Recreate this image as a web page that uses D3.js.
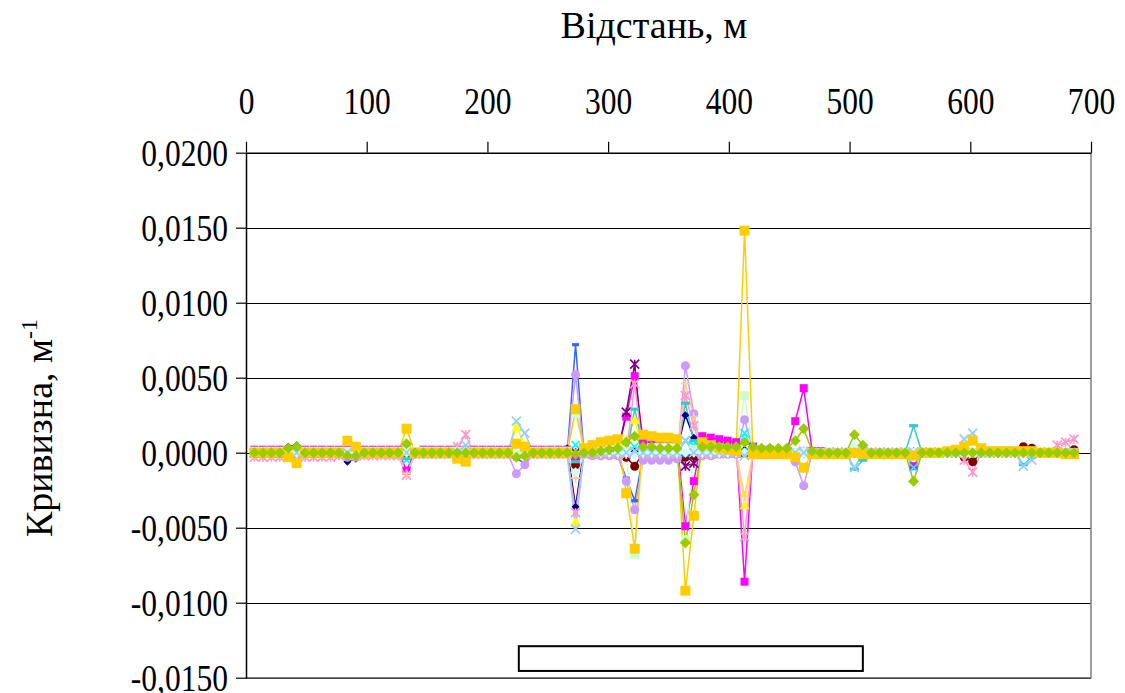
<!DOCTYPE html>
<html>
<head>
<meta charset="utf-8">
<script src="https://cdn.jsdelivr.net/npm/d3@7"></script>
<style>
  body { margin: 0; background: #fff; }
  svg { display: block; }
  text { font-family: "Liberation Serif", "Times New Roman", serif; fill: #000; }
</style>
</head>
<body>
<div id="chart"></div>
<script>
// Кривизна по відстані (x кожні 7 м)
const distance = [7,14,21,28,35,42,49,56,63,70,77,84,91,98,105,112,119,126,133,140,147,154,161,168,175,182,189,196,
  203,210,217,224,231,238,245,252,259,266,273,280,287,294,301,308,315,322,329,336,343,350,357,364,371,378,385,392,
  399,406,413,420,427,434,441,448,455,462,469,476,483,490,497,504,511,518,525,532,539,546,553,560,567,574,581,588,
  595,602,609,616,623,630,637,644,651,658,665,672,679,686];

const xTicks = [0, 100, 200, 300, 400, 500, 600, 700];
const yTicks = [-0.015, -0.01, -0.005, 0, 0.005, 0.01, 0.015, 0.02];
const bridge = { from: 226, to: 511, top: -0.0129, bottom: -0.01455 };

const s1 = [
  0.0002,0.0002,0.0001,0.0001,0.0004,0.0005,0.0001,0.0001,0.0001,0.0001,0.0001,-0.0006,-0.0004,0.0001,
  0.0001,0.0001,0.0001,0.0001,0,0.0001,0.0001,0.0001,0.0001,0.0001,0.0001,0,0.0001,0.0001,
  0.0001,0.0001,0.0001,0.0001,0,0.0001,0.0001,0.0002,0.0002,0.0003,-0.0036,0.0002,0.0001,0.0001,
  0.0001,0.0001,0.0002,0.0001,0,0,0,0,0.0001,0.0025,0.001,0.0001,0,0,
  0,0,0.0002,0,0,0,0,0,0,0,0,0,0,0,
  0,0,0,0,0,0,0,0,0.0001,0,0,0,0,0,
  0,0,0,0,0,0,0,0,0,0,0,0,0,0];
const s2 = [
  0.0002,0.0002,0.0002,0.0002,0.0002,0.0002,0.0002,0.0002,0.0002,0.0002,0.0002,0.0002,0.0002,0.0002,
  0.0002,0.0002,0.0002,0.0002,-0.0012,0.0001,0.0002,0.0002,0.0002,0.0002,0.0002,0.0002,0.0002,0.0002,
  0.0002,0.0002,0.0002,0.0002,0.0002,0.0002,0.0002,0.0002,0.0002,0.0002,-0.0004,0.0001,0.0001,0.0001,
  0.0001,0.0002,0.0024,0.0051,0.0008,0.0009,0.0009,0.0009,0.0009,-0.0049,-0.0019,0.0011,0.001,0.0009,
  0.0008,0.0007,-0.0086,0.0004,0.0002,0.0002,0.0001,0.0001,0.0021,0.0043,0.0001,0.0001,0,0,
  0,0,0,0,0,0,0,0,-0.0009,0,0,0,0,0,
  0,0,0,0,0,0,0,0,0,0,0,0,0,0];
const s3 = [
  0,0,0,0,0,0,0,0,0,0,0,0,0,0,
  0,0,0,0,0,0,0,0,0,0,0,0,0,0,
  0,0,0,0.0017,0.0005,0,0,0,0,0,-0.0046,0,0,0,
  0,0,0.0009,0.0022,0,0,0,0,0,-0.0002,0,0,0,0,
  0,0,-0.0035,0,0,0,0,0,0,0,0,0,0,0,
  0,0,0,0,0,0,0,0,0,0,0,0,0,0,
  0,0,0,0,0,0,0,0,0,0,0,0,0,0];
const s4 = [
  0,0,0,0,0,0,0,0,0,0,0,0,0,0,
  0,0,0,0,-0.0005,0,0,0,0,0,0,0.0001,0,0,
  0,0,0,0.0002,0.0001,0,0,0.0001,0.0001,0.0001,0.0005,0.0001,0,0,
  0,0,0.0001,0.0004,0,0,0,0,0,0.0008,0.0005,0,0,0,
  0,0,0.0013,0.0001,0,0,0,0,0,0,0,0,0,0,
  0,0,0,0,0,0,0,0,-0.001,0,0,0,0,0,
  0,0,0,0,0,0,0,0,0,0,0,0,0,0];
const s5 = [
  0,0,0,0,0,0,0,0,0,0,0,0,0,0,
  0,0,0,0,0,0,0,0,0,0,0,0,0,0,
  0,0,0,0,0,0,0,0,0,0,0,0,0,0,
  0,0,0.0027,0.0059,0,0,0,0,0,-0.0009,-0.0007,0,0,0,
  0,0,0,0,0,0,0,0,0,0,0,0,0,0,
  0,0,0,0,0,0,0,0,0,0,0,0,0,0,
  0,0,0,0,0,0,0,0,0,0,0,0,0,0];
const s6 = [
  0,0,0,0,0,0,0,0,0,0,0,0,0,0,
  0,0,0,0,0,0,0,0,0,0,0,0,0,0,
  0,0,0,0,0,0,0,0,0,0,-0.0008,0,0,0,
  0,0,-0.0003,-0.0009,0,0,0,0,0,-0.0003,-0.0002,0,0,0,
  0,0,0,0,0,0,0,0,0,0,0,0,0,0,
  0,0,0,0,0,0,0,0,0,0,0,0,0,0,
  -0.0003,-0.0006,0,0,0,0,0,0.0004,0.0003,0,0,0,0,0.0002];
const s7 = [
  -0.0001,-0.0001,-0.0001,-0.0001,-0.0001,-0.0001,-0.0001,-0.0001,-0.0001,-0.0001,-0.0001,0.0001,-0.0001,-0.0001,
  -0.0001,-0.0001,-0.0001,-0.0001,-0.0004,-0.0001,-0.0001,-0.0001,-0.0001,-0.0001,0.0001,0.0003,-0.0001,-0.0001,
  -0.0001,-0.0001,-0.0001,-0.0001,-0.0001,-0.0001,-0.0001,-0.0001,-0.0001,-0.0001,-0.0006,-0.0001,-0.0002,-0.0002,
  -0.0002,-0.0002,-0.0002,0.0029,0.0004,-0.0002,-0.0002,-0.0002,-0.0002,0.0033,0.0008,-0.0002,-0.0002,-0.0002,
  -0.0001,-0.0001,0.0002,-0.0001,-0.0001,-0.0001,-0.0001,-0.0001,-0.0001,-0.0001,0,0,0,0,
  0,-0.0011,-0.0005,0,0,0,0,0,0.0018,0,0,0,0,0,
  0,0,0,0,0,0,0,-0.0008,-0.0003,0,0,0,0,0];
const s8 = [
  -0.0001,-0.0001,-0.0001,-0.0001,-0.0001,-0.0001,-0.0001,-0.0001,-0.0001,-0.0001,-0.0001,-0.0001,-0.0001,-0.0001,
  -0.0001,-0.0001,-0.0001,-0.0001,-0.0001,-0.0001,-0.0001,-0.0001,-0.0001,-0.0001,-0.0001,-0.0001,-0.0001,-0.0001,
  -0.0001,-0.0001,-0.0001,-0.0004,-0.0007,-0.0001,-0.0001,-0.0001,-0.0001,-0.0001,0.0072,-0.0001,-0.0002,-0.0002,
  -0.0002,-0.0002,-0.0017,-0.0032,-0.0002,-0.0002,-0.0002,-0.0002,-0.0002,-0.0002,-0.0001,-0.0001,-0.0001,-0.0001,
  -0.0001,-0.0001,-0.0001,-0.0001,-0.0001,-0.0001,-0.0001,-0.0001,-0.0001,0,0,0,0,0,
  0,0.0002,0,0,0,0,0,0,0.0001,0,0,0,0,0,
  0,0,0,0,0,0,0,0,0,0,0,0,0,0];
const s9 = [
  -0.0001,-0.0001,-0.0001,-0.0001,-0.0002,-0.0003,-0.0001,-0.0001,-0.0001,-0.0001,-0.0001,-0.0003,-0.0003,-0.0001,
  -0.0001,-0.0001,-0.0001,-0.0001,0.0005,-0.0001,-0.0001,-0.0001,-0.0001,-0.0001,-0.0001,-0.0001,-0.0001,-0.0001,
  -0.0001,-0.0001,-0.0001,-0.0014,-0.0008,-0.0001,-0.0001,-0.0001,-0.0001,-0.0001,0.0052,-0.0001,-0.0002,-0.0002,
  -0.0002,-0.0002,-0.0019,-0.0038,-0.0005,-0.0005,-0.0005,-0.0005,-0.0004,0.0058,0.0026,-0.0002,-0.0002,-0.0001,
  -0.0001,-0.0001,0.0022,0.0002,0,0,0,0,-0.0006,-0.0022,0,0,0,0,
  0,0,0,0,0,0,0,0,0,0,0,0,0,0,
  0,0,0,0,0,0,0,0,0,0,0,0,0,0];
const s10 = [
  -0.0003,-0.0003,-0.0003,-0.0003,-0.0003,-0.0003,-0.0003,-0.0003,-0.0003,-0.0003,-0.0002,-0.0002,-0.0002,-0.0002,
  -0.0002,-0.0002,-0.0002,-0.0002,-0.0015,-0.0001,-0.0001,-0.0001,-0.0001,-0.0001,0.0004,0.0012,-0.0001,-0.0001,
  -0.0001,-0.0001,-0.0001,-0.0001,-0.0001,-0.0001,-0.0001,-0.0001,-0.0001,-0.0001,-0.004,-0.0001,-0.0001,-0.0001,
  -0.0001,-0.0001,-0.0001,0.0046,-0.0001,-0.0001,-0.0001,-0.0001,-0.0001,0.0038,0.0018,-0.0001,-0.0001,-0.0001,
  0,0,-0.0056,0,0,0,0,0,0,0.0001,0,0,0,0,
  0,0,0,0,0,0,0,0,0,0,0,0,0,0,
  -0.0005,-0.0013,0,0,0,0,0,0,0,0,0,0.0005,0.0007,0.0009];
const s11 = [
  -0.0001,-0.0001,-0.0001,-0.0001,-0.0001,-0.0001,-0.0001,-0.0001,-0.0001,-0.0001,-0.0001,-0.0001,-0.0001,-0.0001,
  -0.0001,-0.0001,-0.0001,-0.0001,-0.0014,-0.0001,-0.0001,-0.0001,-0.0001,-0.0001,-0.0001,-0.0001,-0.0001,-0.0001,
  -0.0001,-0.0001,-0.0001,-0.0001,-0.0001,-0.0001,-0.0001,-0.0001,-0.0001,-0.0001,-0.0017,-0.0001,-0.0001,-0.0001,
  -0.0001,-0.0001,-0.0001,-0.0001,-0.0001,-0.0001,-0.0001,-0.0001,-0.0001,0.0046,0.0024,-0.0001,-0.0001,-0.0001,
  0,0,-0.0029,0,0,0,0,0,0,0,0,0,0,0,
  0,0,0,0,0,0,0,0,0,0,0,0,0,0,
  0,0,0,0,0,0,0,0,0,0,0,0,0,0];
const s12 = [
  0.0001,0.0001,0.0001,0.0001,0.0001,0.0001,0.0001,0.0001,0.0001,0.0001,0.0001,0.0001,0.0001,0.0001,
  0.0001,0.0001,0.0001,0.0001,0.0001,0.0001,0.0001,0.0001,0.0001,0.0001,0.0001,0.0001,0.0001,0.0001,
  0.0001,0.0001,0.0001,0.0001,0.0001,0.0001,0.0001,0.0001,0.0001,0.0001,0.0026,0.0001,0.0003,0.0005,
  0.0007,0.0006,0.0001,-0.0068,0.0002,0.0002,0.0002,0.0002,0.0002,-0.0058,0.0002,0.0003,0.0003,0.0002,
  0.0002,0.0002,0.0038,0.0001,0.0001,0,0,0,0,0,0,0,0,0,
  0,0,0,0,0,0,0,0,0,0,0,0,0,0,
  0,0,0,0,0,0,0,0,0,0,0,0,0,0];
const s13 = [
  0,0,0,0,0,0,0,0,0,0,0,0,0,0,
  0,0,0,0,0,0,0,0,0,0,0,0,0,0,
  0,0,0,0,0,0,0,0,0,0,-0.0013,0,0,0,
  0,0,0,-0.0001,0,0,0,0,0,0,0,0,0,0,
  0,0,0,0,0,0,0,0,0,0,0,0,0,0,
  0,0.0004,0,0,0,0,0,0,0,0,0,0,0,0,
  0,0,0,0,0,0,0,0,0,0,0,0,0,0];
const s14 = [
  0,0,0,0,0,0,0,0,0,0,0,0,0,0,
  0,0,0,0,0,0,0,0,0,0,0,0.0005,0,0,
  0,0,0,0.0021,0.0013,0,0,0,0,0,-0.0051,0,0,0,
  0,0,0,0.0001,0,0,0,0,0,0.0008,0,0,0,0,
  0,0,-0.0002,0,0,0,0,0,0,0,0,0,0,0,
  0,-0.001,0,0,0,0,0,0,0,0,0,0,0,0,
  0.0009,0.0013,0,0,0,0,0,-0.0009,-0.0005,0,0,0,0,0];
const s15 = [
  0,0,0,0,-0.0003,-0.0007,0,0,0,0,0,0.0008,0.0004,0,
  0,0,0,0,0.0016,0,0,0,0,0,-0.0004,-0.0006,0,0,
  0,0,0,0.0006,0.0004,0,0,0,0,0,0.0029,0.0003,0.0005,0.0007,
  0.0008,0.0009,-0.0027,-0.0064,0.0012,0.0011,0.001,0.001,0.0009,-0.0092,-0.0042,0.0007,0.0005,0.0003,
  0.0002,0.0001,0.0148,-0.0001,-0.0001,-0.0001,-0.0001,-0.0001,-0.0003,-0.001,-0.0001,-0.0001,-0.0001,-0.0001,
  -0.0001,0,-0.0001,-0.0001,-0.0001,-0.0001,-0.0001,-0.0001,-0.0002,0,0,0,0.0001,0.0002,
  0.0004,0.0008,0.0003,0.0001,0.0001,0.0001,0.0001,0.0001,0.0001,0,0,0,-0.0001,-0.0001];
const s16 = [
  0,0,0,0,0.0003,0.0004,0,0,0,0,0,-0.0002,-0.0002,0,
  0,0,0,0,0.0006,0,0,0,0,0,0,0,0,0,
  0,0,0,-0.0003,-0.0002,0,0,0,0,0,-0.0001,0,0,0.0001,
  0.0002,0.0003,0.0007,0.0011,0.0004,0.0004,0.0003,0.0003,0.0003,-0.006,-0.0028,0.0004,0.0004,0.0004,
  0.0004,0.0004,0.0007,0.0004,0.0003,0.0003,0.0003,0.0003,0.0008,0.0016,0.0001,0,0,0,
  0,0.0012,0.0005,0,0,0,0,0,-0.0019,0,0,0,0,0,
  0,0,0,0,0,0,0,0,0,0,0,0,0,0];

// порядок малювання = порядок серій Excel
const series = [
  { values: s1,  color: "#000080", marker: "diamond", size: 4 },
  { values: s2,  color: "#FF00FF", marker: "square",  size: 4 },
  { values: s3,  color: "#FFFF00", marker: "triangle",size: 5 },
  { values: s4,  color: "#00FFFF", marker: "x",       size: 4 },
  { values: s5,  color: "#800080", marker: "star",    size: 4.5 },
  { values: s6,  color: "#800000", marker: "circle",  size: 4.5 },
  { values: s7,  color: "#33CCCC", marker: "dash",    size: 4.5 },
  { values: s8,  color: "#3366FF", marker: "dash",    size: 3.5 },
  { values: s9,  color: "#CC99FF", marker: "circle",  size: 4.5 },
  { values: s10, color: "#FF99CC", marker: "star",    size: 4.5 },
  { values: s11, color: "#FFCC99", marker: "plus",    size: 4.5 },
  { values: s12, color: "#CCFFCC", marker: "square",  size: 4.5 },
  { values: s13, color: "#CCFFFF", marker: "diamond", size: 5 },
  { values: s14, color: "#99CCFF", marker: "x",       size: 4.5 },
  { values: s15, color: "#FFCC00", marker: "square",  size: 5 },
  { values: s16, color: "#99CC00", marker: "diamond", size: 5.5 }
];

const width = 1125, height = 693;
const plotLeft = 246, plotRight = 1091, plotTop = 152.7, plotBottom = 677.7;
const numScale = 0.83; // шрифт цифр вужчий, як у оригіналі

const svg = d3.select("#chart").append("svg")
  .attr("width", width)
  .attr("height", height);

const x = d3.scaleLinear().domain([0, 700]).range([plotLeft, plotRight]);
const y = d3.scaleLinear().domain([-0.015, 0.02]).range([plotBottom, plotTop]);

const ua = d3.formatLocale({ decimal: ",", thousands: " ", grouping: [3], currency: ["", ""], minus: "-" });
const fmt = ua.format(".4f");

// сітка
svg.append("g")
  .selectAll("line")
  .data(yTicks)
  .join("line")
  .attr("x1", plotLeft).attr("x2", plotRight)
  .attr("y1", d => Math.round(y(d)) + 0.5).attr("y2", d => Math.round(y(d)) + 0.5)
  .attr("stroke", "#000")
  .attr("stroke-width", 1);

// рамка справа і знизу (сіра)
svg.append("path")
  .attr("d", `M${plotRight},${plotTop}V${plotBottom}H${plotLeft}`)
  .attr("fill", "none")
  .attr("stroke", "#808080")
  .attr("stroke-width", 1.5);

// лінії серій
const line = d3.line()
  .x((d, i) => x(distance[i]))
  .y(d => y(d));

svg.append("g")
  .selectAll("path")
  .data(series)
  .join("path")
  .attr("d", d => line(d.values))
  .attr("fill", "none")
  .attr("stroke", d => d.color)
  .attr("stroke-width", 1.5);

function markerPath(type, s) {
  switch (type) {
    case "diamond": return `M0,${-s}L${s},0L0,${s}L${-s},0Z`;
    case "square": return `M${-s},${-s}H${s}V${s}H${-s}Z`;
    case "triangle": return `M0,${-s}L${s},${s * 0.8}L${-s},${s * 0.8}Z`;
    case "circle": return `M${-s},0A${s},${s} 0 1,0 ${s},0A${s},${s} 0 1,0 ${-s},0Z`;
    case "dash": return `M${-s},-1.6H${s}V1.6H${-s}Z`;
    case "x": return `M${-s},${-s}L${s},${s}M${-s},${s}L${s},${-s}`;
    case "star": return `M${-s},${-s}L${s},${s}M${-s},${s}L${s},${-s}M0,${-s}V${s}`;
    case "plus": return `M${-s},0H${s}M0,${-s}V${s}`;
  }
}
const stroked = t => t === "x" || t === "star" || t === "plus";

series.forEach(sr => {
  svg.append("g")
    .selectAll("path")
    .data(sr.values)
    .join("path")
    .attr("transform", (d, i) => `translate(${x(distance[i])},${y(d)})`)
    .attr("d", markerPath(sr.marker, sr.size))
    .attr("fill", stroked(sr.marker) ? "none" : sr.color)
    .attr("stroke", stroked(sr.marker) ? sr.color : "none")
    .attr("stroke-width", 1.7);
});

// прямокутник (міст)
svg.append("rect")
  .attr("x", x(bridge.from))
  .attr("y", y(bridge.top))
  .attr("width", x(bridge.to) - x(bridge.from))
  .attr("height", y(bridge.bottom) - y(bridge.top))
  .attr("fill", "#fff")
  .attr("stroke", "#000")
  .attr("stroke-width", 2);

// осі
const xAxis = svg.append("g")
  .attr("transform", `translate(0,${plotTop})`)
  .call(d3.axisTop(x).tickValues(xTicks).tickSize(11).tickPadding(28).tickSizeOuter(0));
const yAxis = svg.append("g")
  .attr("transform", `translate(${plotLeft},0)`)
  .call(d3.axisLeft(y).tickValues(yTicks).tickSize(10).tickFormat(fmt).tickSizeOuter(0));

[xAxis, yAxis].forEach(a => {
  a.select(".domain").attr("stroke", "#000").attr("stroke-width", 1.5);
  a.selectAll(".tick line").attr("stroke", "#000").attr("stroke-width", 1.2);
  a.selectAll(".tick text")
    .attr("font-family", "Liberation Serif, Times New Roman, serif")
    .attr("font-size", 38)
    .attr("fill", "#000");
});
xAxis.selectAll(".tick text")
  .attr("dy", "0")
  .attr("transform", `scale(${numScale},1)`);
yAxis.selectAll(".tick text")
  .attr("x", -18 / numScale)
  .attr("dy", "0.34em")
  .attr("transform", `scale(${numScale},1)`);

// підписи осей
svg.append("text")
  .attr("x", 654)
  .attr("y", 38)
  .attr("text-anchor", "middle")
  .attr("font-size", 38)
  .text("Відстань, м");

const yt = svg.append("text")
  .attr("transform", "translate(52,428) rotate(-90)")
  .attr("text-anchor", "middle")
  .attr("font-size", 38);
yt.append("tspan").text("Кривизна, м");
yt.append("tspan").attr("font-size", 24).attr("dy", -15).text("-1");
</script>
</body>
</html>
